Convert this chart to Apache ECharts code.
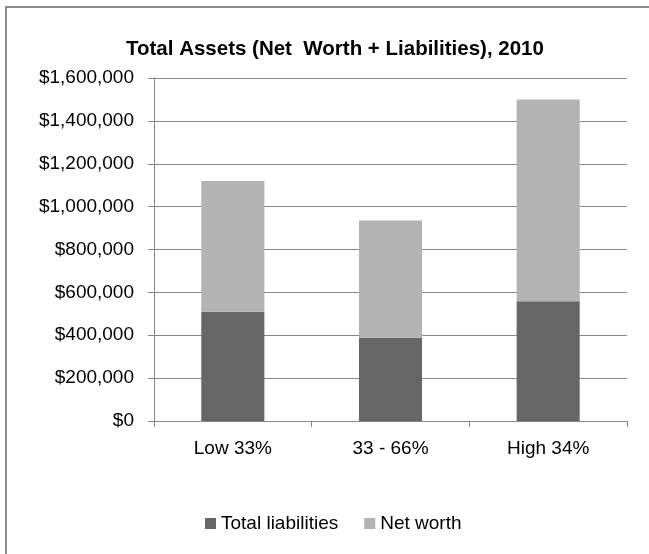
<!DOCTYPE html>
<html>
<head>
<meta charset="utf-8">
<style>
  html, body { margin: 0; padding: 0; background: #fff; }
  #chart { width: 649px; height: 554px; }
</style>
<script src="https://cdn.jsdelivr.net/npm/echarts@6/dist/echarts.min.js"></script>
</head>
<body>
<div id="chart"></div>
<script>
// data
const categories = ['Low 33%', '33 - 66%', 'High 34%'];
const liabilities = [510000, 388000, 559000];
const netWorth = [610000, 547000, 941000];
const seriesNames = ['Total liabilities', 'Net worth'];

const font = 'Liberation Sans, Arial, sans-serif';
const gray = '#878787';

let myChart = echarts.init(document.getElementById('chart'));

function money(v) {
    return '$' + v.toLocaleString('en-US');
}

let option = {
    backgroundColor: '#fff',
    animation: false,
    title: {
        text: 'Total Assets (Net  Worth + Liabilities), 2010',
        left: 121,
        top: 34,
        textStyle: { fontFamily: font, fontSize: 20.5, fontWeight: 'bold', color: '#000' }
    },
    legend: {
        data: seriesNames,
        left: 200,
        top: 509,
        itemWidth: 11,
        itemHeight: 11,
        itemGap: 26,
        icon: 'rect',
        textStyle: { fontFamily: font, fontSize: 19, color: '#000' }
    },
    grid: { left: 154, right: 22, top: 78, bottom: 133 },
    xAxis: {
        type: 'category',
        data: categories,
        axisLine: { lineStyle: { color: gray, width: 1 } },
        axisTick: { show: true, length: 6, lineStyle: { color: gray } },
        axisLabel: { margin: 18, fontFamily: font, fontSize: 19, color: '#000' }
    },
    yAxis: {
        type: 'value',
        min: 0,
        max: 1600000,
        interval: 200000,
        axisLine: { show: true, lineStyle: { color: gray } },
        axisTick: { show: true, length: 6, lineStyle: { color: gray } },
        splitLine: { lineStyle: { color: gray, width: 1 } },
        axisLabel: { margin: 20, fontFamily: font, fontSize: 19, color: '#000', formatter: money }
    },
    series: [
        {
            name: seriesNames[0],
            type: 'bar',
            stack: 'total',
            barWidth: '40%',
            itemStyle: { color: '#666666' },
            data: liabilities
        },
        {
            name: seriesNames[1],
            type: 'bar',
            stack: 'total',
            barWidth: '40%',
            itemStyle: { color: '#b3b3b3' },
            data: netWorth
        }
    ],
    graphic: [
        { type: 'line', shape: { x1: 5, y1: 7, x2: 649, y2: 7 }, style: { stroke: '#8c8c8c', lineWidth: 2 } },
        { type: 'line', shape: { x1: 6, y1: 6, x2: 6, y2: 554 }, style: { stroke: '#8c8c8c', lineWidth: 2 } }
    ]
};

option && myChart.setOption(option);
</script>
</body>
</html>
